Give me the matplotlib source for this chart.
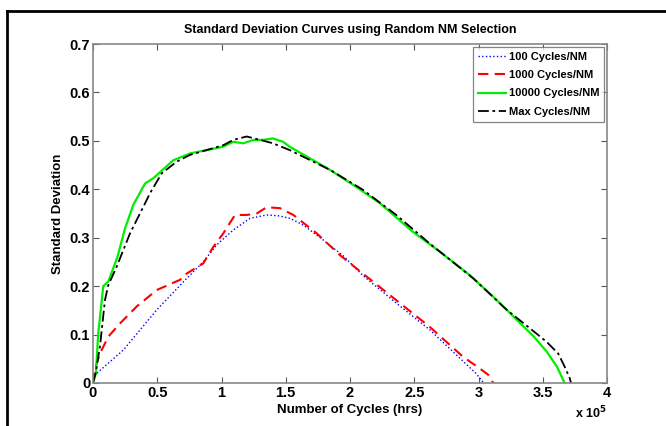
import numpy as np
import matplotlib
matplotlib.use("Agg")
import matplotlib.pyplot as plt
from matplotlib.lines import Line2D
from matplotlib.ticker import FuncFormatter

# values, x in units of 1e5 hrs
x_100 = [0, 0.016, 0.236, 0.496, 0.729, 0.858, 0.962, 1.092, 1.222, 1.352, 1.45, 1.533, 1.637,
         1.793, 1.95, 2.1, 2.36, 2.62, 2.88, 2.98, 3.04]
y_100 = [0, 0.017, 0.068, 0.151, 0.216, 0.25, 0.285, 0.316, 0.340, 0.347, 0.345, 0.340, 0.326,
         0.295, 0.262, 0.222, 0.165, 0.11, 0.045, 0.02, 0]

x_1000 = [0, 0.016, 0.054, 0.12, 0.21, 0.34, 0.496, 0.677, 0.729, 0.858, 0.936, 1.014, 1.105,
          1.196, 1.274, 1.352, 1.455, 1.559, 1.741, 1.922, 2.10, 2.36, 2.62, 2.88, 3.01, 3.08, 3.115]
y_1000 = [0, 0.030, 0.061, 0.096, 0.123, 0.158, 0.192, 0.213, 0.226, 0.247, 0.281, 0.309, 0.347,
          0.347, 0.350, 0.363, 0.361, 0.347, 0.309, 0.264, 0.226, 0.171, 0.116, 0.054, 0.030, 0.016, 0]

x_10000 = [0, 0.023, 0.04, 0.08, 0.12, 0.19, 0.249, 0.314, 0.405, 0.47, 0.625, 0.755, 0.885,
           1.014, 1.092, 1.17, 1.25, 1.325, 1.40, 1.48, 1.53, 1.845, 2.026, 2.234, 2.49, 2.70,
           2.93, 3.115, 3.30, 3.43, 3.53, 3.61, 3.67]
y_10000 = [0, 0.02, 0.10, 0.20, 0.21, 0.26, 0.319, 0.368, 0.412, 0.423, 0.46, 0.474, 0.481,
           0.488, 0.498, 0.495, 0.502, 0.502, 0.505, 0.498, 0.488, 0.44, 0.409, 0.371, 0.312, 0.271,
           0.223, 0.178, 0.130, 0.096, 0.065, 0.034, 0.0]

x_max = [0, 0.02, 0.054, 0.093, 0.119, 0.184, 0.288, 0.405, 0.444, 0.535, 0.651, 0.755, 0.885,
         1.014, 1.092, 1.196, 1.30, 1.40, 1.53, 1.845, 2.10, 2.36, 2.62, 2.96, 3.22, 3.40, 3.53,
         3.62, 3.67, 3.71, 3.72]
y_max = [0, 0.02, 0.075, 0.171, 0.202, 0.24, 0.309, 0.371, 0.392, 0.433, 0.457, 0.471, 0.481,
         0.491, 0.502, 0.509, 0.502, 0.495, 0.481, 0.44, 0.399, 0.347, 0.288, 0.216, 0.151, 0.113,
         0.085, 0.061, 0.034, 0.010, 0]

labels = ["100 Cycles/NM", "1000 Cycles/NM", "10000 Cycles/NM", "Max Cycles/NM"]

plt.rcParams['font.family'] = ['Liberation Sans', 'DejaVu Sans']
plt.rcParams['font.weight'] = 'bold'

fig = plt.figure(figsize=(6.66, 4.26), dpi=100)
ax = fig.add_axes([93 / 666, 1 - 383 / 426, (607 - 93) / 666, (383 - 44) / 426])

scale = 1e5
ax.plot(np.array(x_100) * scale, y_100, color='#0000ff', linestyle=':', lw=1.0, label=labels[0])
ax.plot(np.array(x_1000) * scale, y_1000, color='#ff0000', linestyle=(0, (5, 3)), lw=1.5, label=labels[1])
ax.plot(np.array(x_10000) * scale, y_10000, color='#00ee00', linestyle='-', lw=1.6, label=labels[2])
ax.plot(np.array(x_max) * scale, y_max, color='black', linestyle=(0, (6, 2, 1.5, 2)), lw=1.3, label=labels[3])

ax.set_xlim(0, 4e5)
ax.set_ylim(0, 0.7)
ax.set_xticks(np.arange(0, 4.01e5, 0.5e5))
ax.set_yticks(np.arange(0, 0.71, 0.1))
ax.xaxis.set_major_formatter(FuncFormatter(lambda v, p: '%g' % (v / scale)))
ax.yaxis.set_major_formatter(FuncFormatter(lambda v, p: '%g' % round(v, 1)))
ax.tick_params(direction='in', top=True, right=True, length=4, width=0.8,
               color='#555555', labelsize=10.5, pad=2)
for s in ax.spines.values():
    s.set_color('#888888')
    s.set_linewidth(1.2)

ax.set_title("Standard Deviation Curves using Random NM Selection", fontsize=9, fontweight='bold', pad=8)
ax.set_xlabel("Number of Cycles (hrs)", fontsize=9.5, fontweight='bold', labelpad=3)
ax.set_ylabel("Standard Deviation", fontsize=9.5, fontweight='bold', labelpad=4)
ax.text(1.0, -0.065, r"x 10$^{5}$", transform=ax.transAxes, ha='right', va='top',
        fontsize=9, fontweight='bold')

leg = ax.legend(loc='upper right', fontsize=8, frameon=True, fancybox=False,
                borderpad=0.45, labelspacing=0.75, handlelength=2.6, handletextpad=0.2,
                borderaxespad=0.25)
leg.get_frame().set_edgecolor('#666666')
leg.get_frame().set_linewidth(0.9)
for t in leg.get_texts():
    t.set_fontweight('bold')

# page frame lines
fig.add_artist(Line2D([7 / 666, 1], [1 - 11 / 426, 1 - 11 / 426], color='black', lw=2, transform=fig.transFigure))
fig.add_artist(Line2D([7 / 666, 7 / 666], [0, 1 - 11 / 426], color='black', lw=2, transform=fig.transFigure))

fig.savefig("out.png", dpi=100)
